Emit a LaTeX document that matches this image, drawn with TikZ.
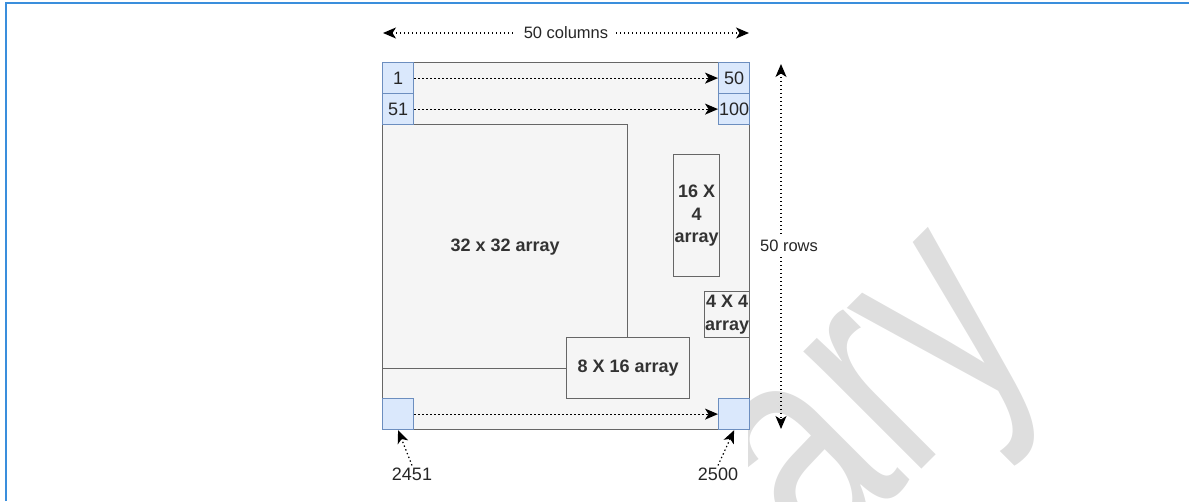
\documentclass[tikz,border=0pt]{standalone}
\usepackage{fontspec}
\setmainfont{Liberation Sans}
\usetikzlibrary{arrows.meta}
\definecolor{framec}{RGB}{58,142,220}
\definecolor{boxfill}{HTML}{F5F5F5}
\definecolor{boxline}{HTML}{666666}
\definecolor{boxtext}{HTML}{333333}
\definecolor{cellfill}{HTML}{DAE8FC}
\definecolor{cellline}{HTML}{6C8EBF}
\definecolor{wmark}{HTML}{DEDEDE}
\tikzset{
  graybox/.style={draw=boxline, fill=boxfill, line width=1.2pt, inner sep=0pt, anchor=north west},
  arraytext/.style={inner sep=0pt, text=boxtext, font=\fontsize{18}{22.5}\selectfont\bfseries, align=center},
  cell/.style={draw=cellline, fill=cellfill, line width=1.2pt, inner sep=0pt,
    minimum width=31, minimum height=31, font=\fontsize{18}{22}\selectfont, text=black!85},
  dotline/.style={draw=black, line width=1.2pt, dash pattern=on 1.4pt off 2.6pt},
  dotarrow/.style={dotline, -{Stealth[length=13pt,width=11pt,inset=3.5pt]}},
  dotboth/.style={dotline, {Stealth[length=13pt,width=11pt,inset=3.5pt]}-{Stealth[length=13pt,width=11pt,inset=3.5pt]}},
  lbl/.style={fill=white, inner ysep=3pt, inner xsep=8pt, font=\fontsize{16.5}{20}\selectfont, text=black!85},
  numlbl/.style={inner sep=2pt, font=\fontsize{18}{22}\selectfont, text=black!85}
}
\begin{document}
\begin{tikzpicture}[x=1pt,y=-1pt]
\useasboundingbox (0,0) rectangle (1189,501);
% watermark (only its right part shows beside the diagram)
\begin{scope}
  \clip (748,0) rectangle (1189,501);
  \begin{scope}[shift={(819,572)}]
    \node[rotate=45, xscale=0.735, anchor=base west, text=wmark, inner sep=0pt,
          font=\fontsize{315}{315}\selectfont] (wm) at (0,0) {ary};
  \end{scope}
\end{scope}
% frame
\draw[framec, line width=2pt] (6,501) -- (6,3) -- (1189,3);
% main grid
\node[graybox, minimum width=367, minimum height=367] (grid) at (382,62) {};
% sub arrays
\node[graybox, minimum width=245, minimum height=244] (a32) at (382,124) {};
\node[arraytext] (t32) at (a32.center) {32 x 32 array};
\node[graybox, minimum width=123, minimum height=61] (a816) at (566,337) {};
\node[arraytext] (t816) at (a816.center) {8 X 16 array};
\node[graybox, minimum width=46, minimum height=122] (a164) at (673,154) {};
\node[arraytext] (t164) at (a164.center) {16 X\\4\\array};
\node[graybox, minimum width=45, minimum height=46] (a44) at (704,291) {};
\node[arraytext] (t44) at (a44.center) {4 X 4\\array};
% corner cells
\node[cell, anchor=north west] (c1) at (382,62) {1};
\node[cell, anchor=north west] (c51) at (382,93) {51};
\node[cell, anchor=north west] (c50) at (718,62) {50};
\node[cell, anchor=north west] (c100) at (718,93) {100};
\node[cell, anchor=north west] (c2451) at (382,398) {};
\node[cell, anchor=north west] (c2500) at (718,398) {};
% row arrows
\draw[dotarrow] (c1.east) -- (c50.west);
\draw[dotarrow] (c51.east) -- (c100.west);
\draw[dotarrow] (c2451.east) -- (c2500.west);
% columns dimension
\coordinate (colL) at (383,33);
\coordinate (colR) at (749,33);
\draw[dotboth] (colL) -- (colR);
\node[lbl] (collbl) at (566,33) {50 columns};
% rows dimension
\coordinate (rowT) at (781,64);
\coordinate (rowB) at (781,429);
\draw[dotboth] (rowT) -- (rowB);
\node[lbl, inner xsep=3pt] (rowlbl) at (789,246) {50 rows};
% bottom labels
\node[numlbl] (l2451) at (412,474) {2451};
\node[numlbl] (l2500) at (718,474) {2500};
\draw[dotarrow] (l2451.north) -- (c2451.south);
\draw[dotarrow] (l2500.north) -- (c2500.south);
\end{tikzpicture}
\end{document}
